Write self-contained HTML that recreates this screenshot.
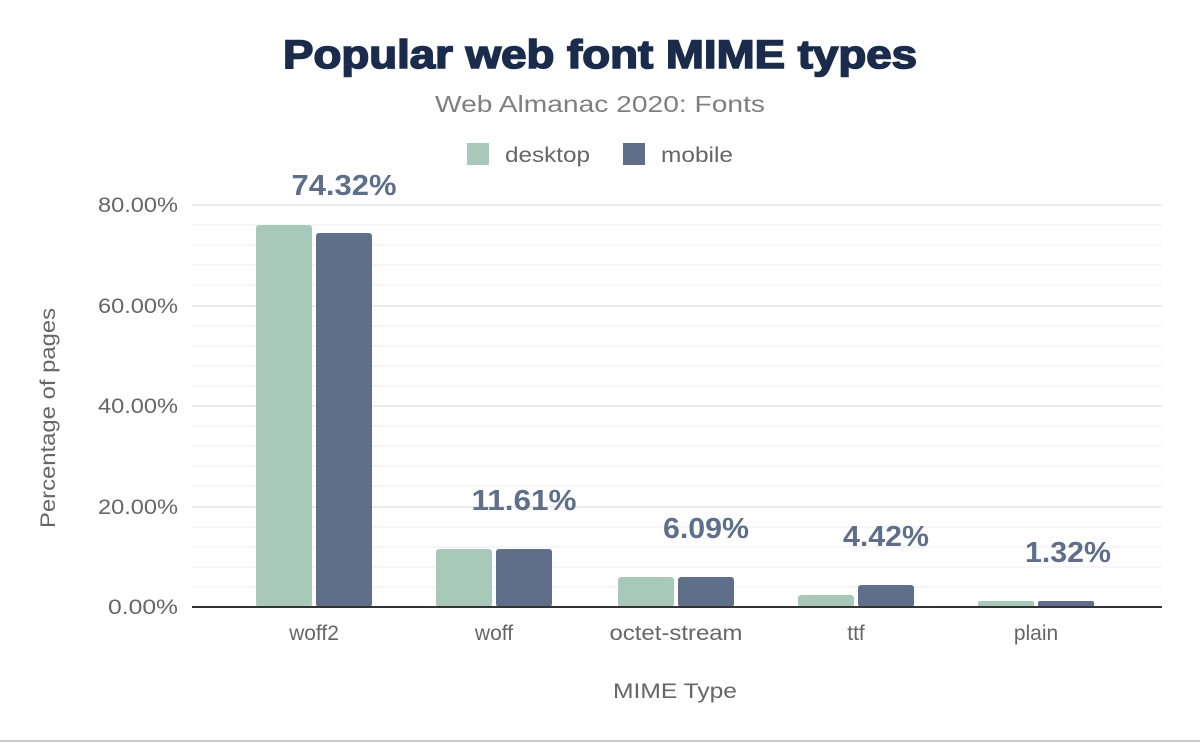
<!DOCTYPE html>
<html><head><meta charset="utf-8"><style>
body{margin:0;background:#fff;width:1200px;height:742px;overflow:hidden;font-family:"Liberation Sans",sans-serif}
</style></head><body>
<svg width="1200" height="742" xmlns="http://www.w3.org/2000/svg" font-family="Liberation Sans, sans-serif">
<text x="600" y="68" text-anchor="middle" font-size="40" font-weight="900" fill="#1a2b4b" stroke="#1a2b4b" stroke-width="1.6" textLength="634" lengthAdjust="spacingAndGlyphs">Popular web font MIME types</text>
<text x="600" y="112" text-anchor="middle" font-size="23" fill="#7f7f7f" textLength="330" lengthAdjust="spacingAndGlyphs">Web Almanac 2020: Fonts</text>
<rect x="467" y="143" width="22" height="22" fill="#a8c9b9"/>
<text x="505" y="162" font-size="21" fill="#666" textLength="85" lengthAdjust="spacingAndGlyphs">desktop</text>
<rect x="623" y="143" width="22" height="22" fill="#5f6f89"/>
<text x="661" y="162" font-size="21" fill="#666" textLength="72" lengthAdjust="spacingAndGlyphs">mobile</text>
<g stroke="#f3f3f3" stroke-width="1.5">
<line x1="192" x2="1162" y1="587" y2="587"/><line x1="192" x2="1162" y1="567" y2="567"/><line x1="192" x2="1162" y1="547" y2="547"/><line x1="192" x2="1162" y1="527" y2="527"/>
<line x1="192" x2="1162" y1="486" y2="486"/><line x1="192" x2="1162" y1="466" y2="466"/><line x1="192" x2="1162" y1="446" y2="446"/><line x1="192" x2="1162" y1="426" y2="426"/>
<line x1="192" x2="1162" y1="386" y2="386"/><line x1="192" x2="1162" y1="366" y2="366"/><line x1="192" x2="1162" y1="346" y2="346"/><line x1="192" x2="1162" y1="326" y2="326"/>
<line x1="192" x2="1162" y1="285" y2="285"/><line x1="192" x2="1162" y1="265" y2="265"/><line x1="192" x2="1162" y1="245" y2="245"/><line x1="192" x2="1162" y1="225" y2="225"/>
</g>
<g stroke="#ebebeb" stroke-width="2">
<line x1="192" x2="1162" y1="507" y2="507"/><line x1="192" x2="1162" y1="406" y2="406"/><line x1="192" x2="1162" y1="306" y2="306"/><line x1="192" x2="1162" y1="205" y2="205"/>
</g>
<g font-size="21" fill="#666" text-anchor="end">
<text x="178" y="614" textLength="70" lengthAdjust="spacingAndGlyphs">0.00%</text>
<text x="178" y="514" textLength="80" lengthAdjust="spacingAndGlyphs">20.00%</text>
<text x="178" y="413" textLength="80" lengthAdjust="spacingAndGlyphs">40.00%</text>
<text x="178" y="313" textLength="80" lengthAdjust="spacingAndGlyphs">60.00%</text>
<text x="178" y="212" textLength="80" lengthAdjust="spacingAndGlyphs">80.00%</text>
</g>
<text transform="translate(55,418) rotate(-90)" text-anchor="middle" font-size="21" fill="#666" textLength="220" lengthAdjust="spacingAndGlyphs">Percentage of pages</text>
<g fill="#a8c9b9">
<rect x="256" y="225" width="56" height="382" rx="3"/>
<rect x="436" y="549" width="56" height="58" rx="3"/>
<rect x="618" y="577" width="56" height="30" rx="3"/>
<rect x="798" y="595" width="56" height="12" rx="3"/>
<rect x="978" y="601" width="56" height="6" rx="2"/>
</g>
<g fill="#5f6f89">
<rect x="316" y="233" width="56" height="374" rx="3"/>
<rect x="496" y="549" width="56" height="58" rx="3"/>
<rect x="678" y="577" width="56" height="30" rx="3"/>
<rect x="858" y="585" width="56" height="22" rx="3"/>
<rect x="1038" y="601" width="56" height="6" rx="2"/>
</g>
<line x1="192" x2="1162" y1="607" y2="607" stroke="#333" stroke-width="2"/>
<g font-size="29" font-weight="bold" fill="#5f6f89" text-anchor="middle">
<text x="344" y="195" textLength="105" lengthAdjust="spacingAndGlyphs">74.32%</text>
<text x="524" y="510" textLength="105" lengthAdjust="spacingAndGlyphs">11.61%</text>
<text x="706" y="538" textLength="86" lengthAdjust="spacingAndGlyphs">6.09%</text>
<text x="886" y="546" textLength="86" lengthAdjust="spacingAndGlyphs">4.42%</text>
<text x="1068" y="562" textLength="86" lengthAdjust="spacingAndGlyphs">1.32%</text>
</g>
<g font-size="21" fill="#666" text-anchor="middle">
<text x="314" y="640">woff2</text><text x="494" y="640">woff</text>
<text x="676" y="640" textLength="133" lengthAdjust="spacingAndGlyphs">octet-stream</text>
<text x="856" y="640">ttf</text><text x="1036" y="640">plain</text>
</g>
<text x="675" y="698" text-anchor="middle" font-size="21" fill="#666" textLength="124" lengthAdjust="spacingAndGlyphs">MIME Type</text>
<line x1="0" x2="1200" y1="741" y2="741" stroke="#999" stroke-width="1"/>
</svg>
</body></html>
